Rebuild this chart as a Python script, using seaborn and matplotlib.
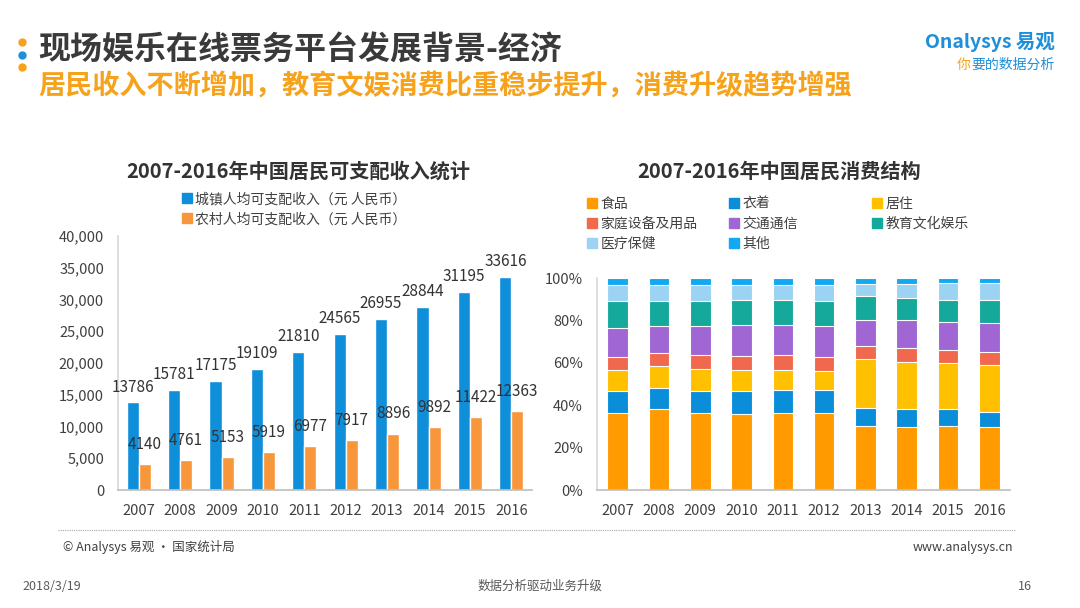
import matplotlib
matplotlib.use("Agg")
import matplotlib.pyplot as plt
from matplotlib.lines import Line2D
from matplotlib.text import Annotation
import seaborn as sns
import pandas as pd
import numpy as np

# ---------------- data ----------------
years = ["2007", "2008", "2009", "2010", "2011", "2012", "2013", "2014", "2015", "2016"]
urban_income = [13786, 15781, 17175, 19109, 21810, 24565, 26955, 28844, 31195, 33616]
rural_income = [4140, 4761, 5153, 5919, 6977, 7917, 8896, 9892, 11422, 12363]
income_series = ["城镇人均可支配收入（元 人民币）", "农村人均可支配收入（元 人民币）"]

consume_cats = ["食品", "衣着", "居住", "家庭设备及用品", "交通通信", "教育文化娱乐", "医疗保健", "其他"]
food      = [36.2, 38.1, 36.5, 35.7, 36.2, 36.2, 30.4, 29.9, 30.4, 29.9]
clothing  = [10.3, 10.2, 10.4, 10.8, 11.0, 11.0, 8.2, 8.2, 7.7, 7.1]
housing   = [10.2, 10.3, 10.3, 10.2, 9.5, 9.0, 23.1, 22.5, 21.7, 21.9]
household = [6.0, 6.0, 6.3, 6.3, 6.8, 6.5, 6.3, 6.3, 6.3, 6.1]
transport = [13.7, 12.6, 13.7, 14.6, 14.1, 14.5, 12.3, 13.1, 13.1, 13.7]
education = [12.9, 12.1, 11.8, 12.2, 12.2, 12.1, 11.0, 10.6, 10.6, 11.1]
medical   = [7.2, 7.2, 7.5, 6.7, 6.7, 7.2, 6.0, 6.7, 7.8, 7.8]
other     = [3.5, 3.5, 3.5, 3.5, 3.5, 3.5, 2.7, 2.7, 2.4, 2.4]
consume_values = [food, clothing, housing, household, transport, education, medical, other]

income_colors = ["#0F8FDA", "#F7963A"]
consume_colors = ["#FF9A00", "#0B8ED9", "#FFC000", "#F0694F", "#A066D3", "#14A99A", "#9DD3F2", "#12A8F2"]

# ---------------- style ----------------
sns.set_theme(style="white")
plt.rcParams["font.family"] = ["Noto Sans CJK SC", "DejaVu Sans"]

W, H = 1080, 608
fig = plt.figure(figsize=(W / 100, H / 100), dpi=100)
fig.patch.set_facecolor("white")

def fx(px):
    return px / W

def fy(py):
    return 1 - py / H

txt_dark = "#404040"

# ---------------- header ----------------
for py, c in [(42, "#F7A21B"), (55, "#1E90D8"), (67, "#F7A21B")]:
    fig.add_artist(Line2D([fx(22)], [fy(py)], marker="o", markersize=5, color=c,
                          transform=fig.transFigure, linestyle=""))
fig.text(fx(38), fy(51), "现场娱乐在线票务平台发展背景-经济", fontsize=23, fontweight="bold",
         color="#3A3A3A", va="center", ha="left")
fig.text(fx(38), fy(86), "居民收入不断增加，教育文娱消费比重稳步提升，消费升级趋势增强", fontsize=19.5,
         fontweight="bold", color="#F7A21B", va="center", ha="left")
fig.text(fx(1055), fy(42), "Onalysys 易观", fontsize=14, color="#1E8FD8", ha="right", va="center",
         fontstyle="italic", fontweight="bold")
slogan = fig.text(fx(1055), fy(65), "要的数据分析", fontsize=10, color="#1E8FD8", ha="right", va="center")
fig.add_artist(Annotation("你", xy=(0, 0.5), xycoords=slogan, xytext=(-1, 0),
                          textcoords="offset points", fontsize=10, color="#F7A21B",
                          ha="right", va="center"))

# ---------------- left chart ----------------
ax1 = fig.add_axes([fx(118), fy(490), fx(532) - fx(118), fy(236) - fy(490)])
df_inc = pd.DataFrame({
    "year": years * 2,
    "series": [income_series[0]] * len(years) + [income_series[1]] * len(years),
    "value": urban_income + rural_income,
})
sns.barplot(data=df_inc, x="year", y="value", hue="series", palette=income_colors,
            width=0.58, gap=0, saturation=1, ax=ax1, legend=False)
ax1.set_ylim(0, 40000)
ax1.set_xlim(-0.5, 9.5)
ax1.set_yticks(np.arange(0, 40001, 5000))
ax1.set_yticklabels([f"{v:,}" for v in range(0, 40001, 5000)])
ax1.set_xlabel("")
ax1.set_ylabel("")
for s in ["top", "right"]:
    ax1.spines[s].set_visible(False)
ax1.spines["left"].set_color("#D9D9D9")
ax1.spines["bottom"].set_color("#BFBFBF")
ax1.tick_params(axis="y", labelsize=10.5, colors=txt_dark, length=4, color="#D9D9D9", pad=6)
ax1.tick_params(axis="x", labelsize=10.5, colors=txt_dark, length=0, pad=10)
pads = [5, 8]
for cont, pd_ in zip(ax1.containers, pads):
    ax1.bar_label(cont, labels=[f"{int(v)}" for v in cont.datavalues], padding=pd_,
                  fontsize=11, color="#333333")

fig.text(fx(298), fy(171), "2007-2016年中国居民可支配收入统计", fontsize=14.5, fontweight="bold",
         color="#333333", ha="center", va="center")
h_inc = [Line2D([], [], marker="s", color=c, linestyle="", markersize=7) for c in income_colors]
leg1 = fig.legend(h_inc, income_series, loc="upper left", bbox_to_anchor=(fx(182), fy(192)),
                  frameon=False, fontsize=10, handlelength=0.7, handletextpad=0.25,
                  labelspacing=0.45, borderaxespad=0, borderpad=0)
for t in leg1.get_texts():
    t.set_color(txt_dark)

# ---------------- right chart ----------------
ax2 = fig.add_axes([fx(597), fy(490), fx(1010) - fx(597), fy(278) - fy(490)])
cum = np.cumsum(np.array(consume_values), axis=0)
for i in range(len(consume_cats) - 1, -1, -1):
    sns.barplot(x=years, y=cum[i], color=consume_colors[i], width=0.5, saturation=1,
                edgecolor="white", linewidth=0.8, ax=ax2)
ax2.set_ylim(0, 100)
ax2.set_xlim(-0.5, 9.5)
ax2.set_yticks(np.arange(0, 101, 20))
ax2.set_yticklabels([f"{v}%" for v in range(0, 101, 20)])
for s in ["top", "right"]:
    ax2.spines[s].set_visible(False)
ax2.spines["left"].set_color("#D9D9D9")
ax2.spines["bottom"].set_color("#BFBFBF")
ax2.tick_params(axis="y", labelsize=10.5, colors=txt_dark, length=4, color="#D9D9D9", pad=6)
ax2.tick_params(axis="x", labelsize=10.5, colors=txt_dark, length=0, pad=10)

fig.text(fx(779), fy(171), "2007-2016年中国居民消费结构", fontsize=14.5, fontweight="bold",
         color="#333333", ha="center", va="center")

col_groups = [[0, 3, 6], [1, 4, 7], [2, 5]]
col_x = [587, 729, 872]
for grp, cx in zip(col_groups, col_x):
    hs = [Line2D([], [], marker="s", color=consume_colors[i], linestyle="", markersize=6.5) for i in grp]
    lg = fig.legend(hs, [consume_cats[i] for i in grp], loc="upper left",
                    bbox_to_anchor=(fx(cx), fy(197)), frameon=False, fontsize=10,
                    handlelength=0.7, handletextpad=0.25, labelspacing=0.42,
                    borderaxespad=0, borderpad=0)
    for t in lg.get_texts():
        t.set_color(txt_dark)

# ---------------- footer ----------------
fig.add_artist(Line2D([fx(58), fx(1015)], [fy(530), fy(530)], transform=fig.transFigure,
                      color="#A6A6A6", linestyle=(0, (1, 1)), linewidth=0.8))
fig.text(fx(63), fy(547), "© Analysys 易观 · 国家统计局", fontsize=9, color=txt_dark, va="center", ha="left")
fig.text(fx(1013), fy(547), "www.analysys.cn", fontsize=9, color=txt_dark, va="center", ha="right")
fig.text(fx(22), fy(586), "2018/3/19", fontsize=9, color="#595959", va="center", ha="left")
fig.text(fx(540), fy(586), "数据分析驱动业务升级", fontsize=9, color="#595959", va="center", ha="center")
fig.text(fx(1032), fy(586), "16", fontsize=9, color="#595959", va="center", ha="right")

fig.savefig("out.png", dpi=100, facecolor="white")
